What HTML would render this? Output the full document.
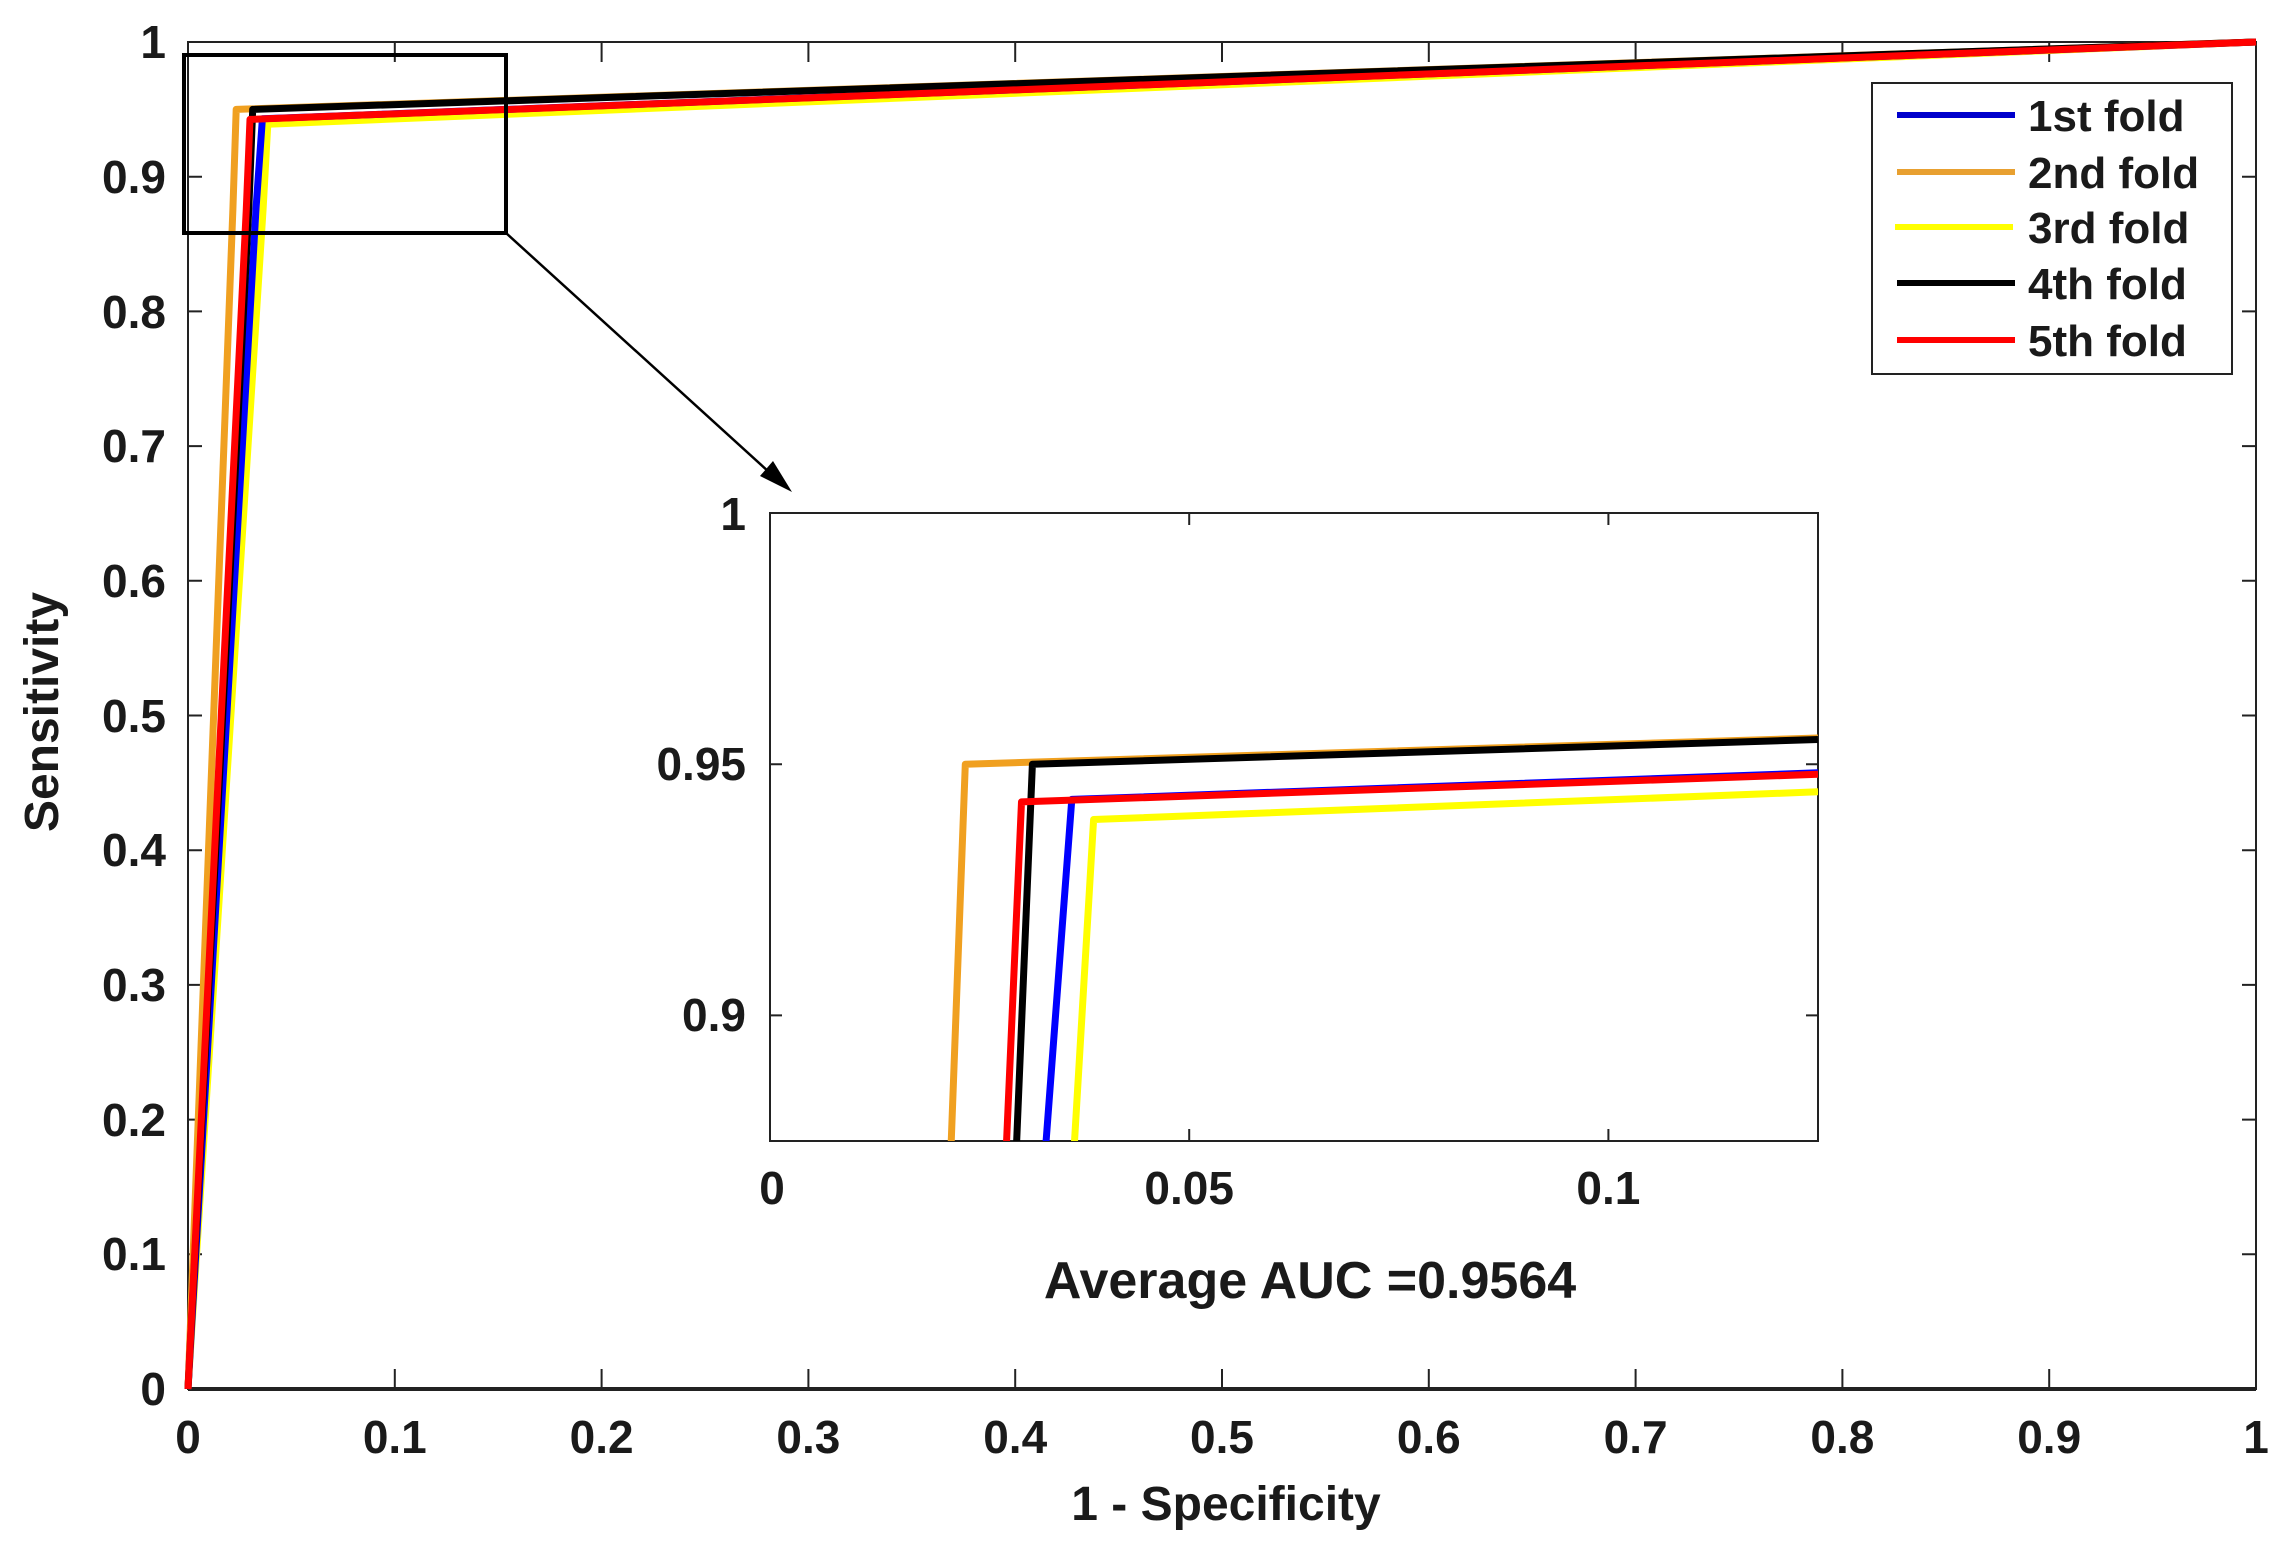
<!DOCTYPE html>
<html><head><meta charset="utf-8"><style>html,body{margin:0;padding:0;background:#fff}svg{display:block}</style></head>
<body>
<svg width="2288" height="1560" viewBox="0 0 2288 1560" xmlns="http://www.w3.org/2000/svg" font-family="Liberation Sans, Arial, sans-serif" font-weight="bold" fill="#1a1a1a">
<rect width="2288" height="1560" fill="#fff"/>
<rect x="188" y="42" width="2068" height="1347" fill="none" stroke="#222" stroke-width="2"/>
<line x1="188" y1="1389" x2="2256" y2="1389" stroke="#222" stroke-width="4"/>
<g stroke="#222" stroke-width="2">
<path d="M394.8 1389v-20M601.6 1389v-20M808.4 1389v-20M1015.2 1389v-20M1222 1389v-20M1428.8 1389v-20M1635.6 1389v-20M1842.4 1389v-20M2049.2 1389v-20
M394.8 42v20M601.6 42v20M808.4 42v20M1015.2 42v20M1222 42v20M1428.8 42v20M1635.6 42v20M1842.4 42v20M2049.2 42v20"/>
<path d="M188 1254.3h14M188 1119.6h14M188 984.9h14M188 850.2h14M188 715.5h14M188 580.8h14M188 446.1h14M188 311.4h14M188 176.7h14
M2256 1254.3h-14M2256 1119.6h-14M2256 984.9h-14M2256 850.2h-14M2256 715.5h-14M2256 580.8h-14M2256 446.1h-14M2256 311.4h-14M2256 176.7h-14"/>
</g>
<g font-size="46" text-anchor="end">
<text x="166" y="1405">0</text><text x="166" y="1270">0.1</text><text x="166" y="1136">0.2</text><text x="166" y="1001">0.3</text><text x="166" y="866">0.4</text><text x="166" y="732">0.5</text><text x="166" y="597">0.6</text><text x="166" y="462">0.7</text><text x="166" y="328">0.8</text><text x="166" y="193">0.9</text><text x="166" y="58">1</text>
</g>
<g font-size="46" text-anchor="middle">
<text x="188" y="1453">0</text><text x="394.8" y="1453">0.1</text><text x="601.6" y="1453">0.2</text><text x="808.4" y="1453">0.3</text><text x="1015.2" y="1453">0.4</text><text x="1222" y="1453">0.5</text><text x="1428.8" y="1453">0.6</text><text x="1635.6" y="1453">0.7</text><text x="1842.4" y="1453">0.8</text><text x="2049.2" y="1453">0.9</text><text x="2256" y="1453">1</text>
<text x="1226" y="1520" font-size="48">1 - Specificity</text>
<text x="1310" y="1298" font-size="52">Average AUC =0.9564</text>
<text transform="translate(58 712) rotate(-90)" font-size="48">Sensitivity</text>
</g>
<g fill="none" stroke-width="7" stroke-linejoin="round">
<polyline stroke="#ffff00" points="188,1389 263.1,209 267.8,124.2 2256,42"/>
<polyline stroke="#0000ff" points="188,1389 256,209 262.4,118.8 2256,42"/>
<polyline stroke="#f0a020" points="188,1389 232.9,209 236.2,109.4 2256,42"/>
<polyline stroke="#000" points="188,1389 248.8,209 252.7,109.4 2256,42"/>
<polyline stroke="#ff0000" points="188,1389 246.3,209 250,119.4 2256,42"/>
</g>
<rect x="184" y="55" width="322" height="178" fill="none" stroke="#000" stroke-width="4"/>
<line x1="506" y1="233" x2="780" y2="482" stroke="#000" stroke-width="2.5"/>
<polygon points="792,492 760,476 773,461" fill="#000"/>
<rect x="770" y="513" width="1048" height="628" fill="#fff" stroke="#222" stroke-width="2"/>
<g stroke="#222" stroke-width="2">
<path d="M1189.2 1141v-12M1608.4 1141v-12M1189.2 513v12M1608.4 513v12M770 1015.4h12M770 764.2h12M1818 1015.4h-12M1818 764.2h-12"/>
</g>
<clipPath id="ic"><rect x="770" y="513" width="1048" height="628"/></clipPath>
<g fill="none" stroke-width="7" stroke-linejoin="round" clip-path="url(#ic)">
<polyline stroke="#ffff00" points="1074.3,1145 1093.6,819.5 1818,791.8"/>
<polyline stroke="#0000ff" points="1045.8,1145 1071.8,799.4 1818,772.8"/>
<polyline stroke="#f0a020" points="951.1,1145 965.3,764.2 1818,738"/>
<polyline stroke="#000" points="1016.5,1145 1032.4,764.2 1818,739.5"/>
<polyline stroke="#ff0000" points="1006.4,1145 1021.5,801.9 1818,774.3"/>
</g>
<g font-size="46">
<text x="746" y="530" text-anchor="end">1</text>
<text x="746" y="780" text-anchor="end">0.95</text>
<text x="746" y="1031" text-anchor="end">0.9</text>
<text x="772" y="1204" text-anchor="middle">0</text>
<text x="1189.2" y="1204" text-anchor="middle">0.05</text>
<text x="1608.4" y="1204" text-anchor="middle">0.1</text>
</g>
<rect x="1872" y="83" width="360" height="291" fill="#fff" stroke="#222" stroke-width="2"/>
<g stroke-width="6">
<line x1="1897" y1="115" x2="2015" y2="115" stroke="#0000cc"/>
<line x1="1897" y1="172" x2="2015" y2="172" stroke="#e8a030"/>
<line x1="1895" y1="227" x2="2013" y2="227" stroke="#ffff00"/>
<line x1="1897" y1="283" x2="2015" y2="283" stroke="#000"/>
<line x1="1897" y1="340" x2="2015" y2="340" stroke="#ff0000"/>
</g>
<g font-size="44">
<text x="2028" y="131">1st fold</text>
<text x="2028" y="188">2nd fold</text>
<text x="2028" y="243">3rd fold</text>
<text x="2028" y="299">4th fold</text>
<text x="2028" y="356">5th fold</text>
</g>
</svg>
</body></html>
